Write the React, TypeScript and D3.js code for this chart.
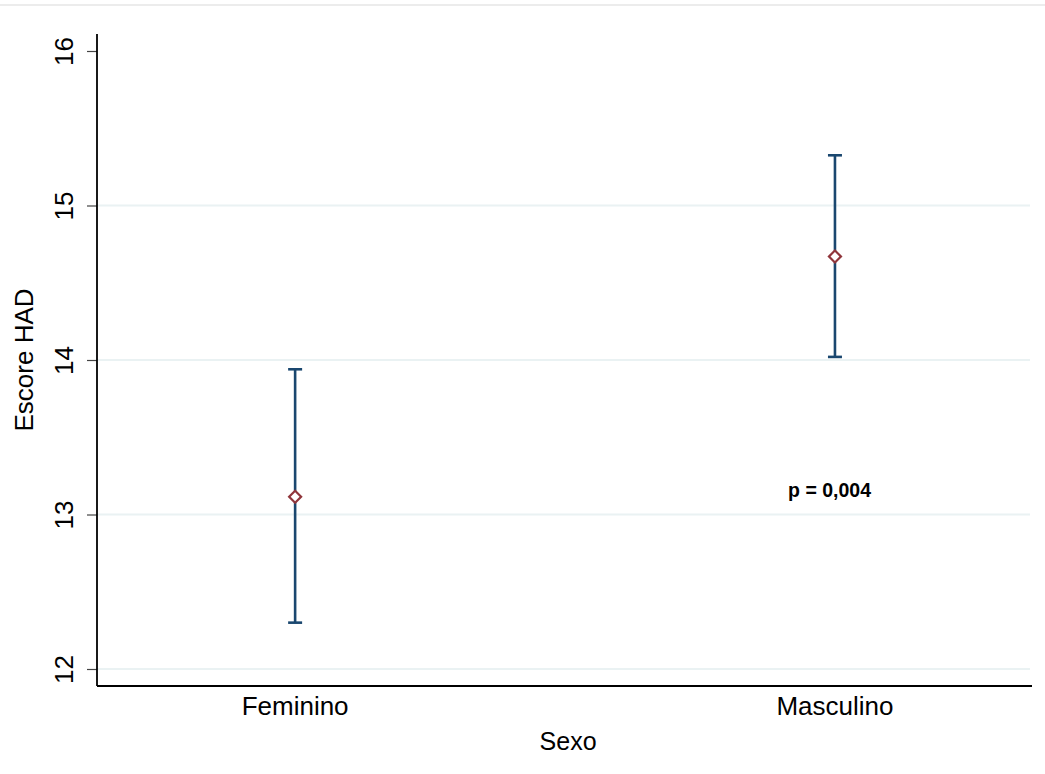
import React, { useEffect, useRef } from 'react';
import * as d3 from 'd3';

// Data
const categories = ['Feminino', 'Masculino'];
const means = [13.115, 14.67];
const lowerCI = [12.3, 14.02];
const upperCI = [13.94, 15.325];
const yTicks = [12, 13, 14, 15, 16];
const gridTicks = [12, 13, 14, 15];
const annotation = 'p = 0,004';
const annotationPos = { x: 1.99, y: 13.15 };

const W = 1045;
const H = 774;
const FONT = '"Liberation Sans", Arial, Helvetica, sans-serif';

const App = () => {
  const ref = useRef<SVGSVGElement | null>(null);

  useEffect(() => {
    if (!ref.current) return;
    const svg = d3.select(ref.current);
    svg.selectAll('*').remove();

    // plot region
    const left = 97, right = 1032, top = 34, bottom = 686;

    const x = d3.scaleLinear().domain([0.633, 2.365]).range([left, right]);
    const y = d3.scaleLinear().domain([11.89, 16.11]).range([bottom, top]);

    svg.append('rect').attr('width', W).attr('height', H).attr('fill', '#fff');

    // faint frame line at the top
    svg.append('line')
      .attr('x1', 0).attr('x2', W).attr('y1', 5).attr('y2', 5)
      .attr('stroke', '#e6e6e6').attr('stroke-width', 1.5);

    // gridlines
    svg.append('g').selectAll('line')
      .data(gridTicks)
      .enter()
      .append('line')
      .attr('x1', left).attr('x2', right - 2)
      .attr('y1', d => y(d)).attr('y2', d => y(d))
      .attr('stroke', '#eaf2f3').attr('stroke-width', 2);

    // y axis
    const yAxis = svg.append('g')
      .attr('transform', `translate(${left},0)`)
      .call(d3.axisLeft(y).tickValues(yTicks).tickSize(10).tickFormat(d3.format('d')));
    yAxis.select('.domain').remove();
    yAxis.selectAll('.tick line').attr('stroke', '#444').attr('stroke-width', 1.2);
    yAxis.selectAll('.tick text')
      .attr('font-family', FONT).attr('font-size', 26).attr('fill', '#000')
      .attr('x', null).attr('dy', null)
      .attr('text-anchor', 'middle')
      .attr('transform', 'translate(-24,0) rotate(-90)');

    svg.append('line')
      .attr('x1', left).attr('x2', left).attr('y1', top).attr('y2', bottom)
      .attr('stroke', '#000').attr('stroke-width', 1.8);
    svg.append('line')
      .attr('x1', left).attr('x2', right).attr('y1', bottom).attr('y2', bottom)
      .attr('stroke', '#000').attr('stroke-width', 1.8);

    // x category labels
    svg.append('g').selectAll('text')
      .data(categories)
      .enter()
      .append('text')
      .attr('x', (d, i) => x(i + 1))
      .attr('y', 715)
      .attr('text-anchor', 'middle')
      .attr('font-family', FONT).attr('font-size', 26)
      .text(d => d);

    // axis titles
    svg.append('text')
      .attr('x', x(1.5) + 3).attr('y', 750)
      .attr('text-anchor', 'middle')
      .attr('font-family', FONT).attr('font-size', 25)
      .text('Sexo');
    svg.append('text')
      .attr('transform', `translate(33,${(y(16) + y(12)) / 2}) rotate(-90)`)
      .attr('text-anchor', 'middle')
      .attr('font-family', FONT).attr('font-size', 26)
      .text('Escore HAD');

    // error bars
    const bars = svg.append('g')
      .attr('stroke', '#1a476f').attr('stroke-width', 2.6).attr('fill', 'none');
    categories.forEach((c, i) => {
      const cx = x(i + 1);
      bars.append('line')
        .attr('x1', cx).attr('x2', cx)
        .attr('y1', y(lowerCI[i])).attr('y2', y(upperCI[i]));
      [lowerCI[i], upperCI[i]].forEach(v => {
        bars.append('line')
          .attr('x1', cx - 7).attr('x2', cx + 7)
          .attr('y1', y(v)).attr('y2', y(v));
      });
    });

    // mean markers (hollow diamonds)
    const diamond = d3.symbol().type(d3.symbolSquare).size(72);
    svg.append('g').selectAll('path')
      .data(means)
      .enter()
      .append('path')
      .attr('d', diamond() as string)
      .attr('transform', (d, i) => `translate(${x(i + 1)},${y(d)}) rotate(45)`)
      .attr('fill', '#fff')
      .attr('stroke', '#90353b')
      .attr('stroke-width', 2.2);

    // p-value annotation
    svg.append('text')
      .attr('x', x(annotationPos.x)).attr('y', y(annotationPos.y) + 6)
      .attr('text-anchor', 'middle')
      .attr('font-family', FONT).attr('font-size', 19.5).attr('font-weight', 'bold')
      .text(annotation);
  }, []);

  return (
    <svg
      ref={ref}
      width={W}
      height={H}
      style={{ position: 'absolute', left: 0, top: 0, display: 'block' }}
    />
  );
};

export default App;
